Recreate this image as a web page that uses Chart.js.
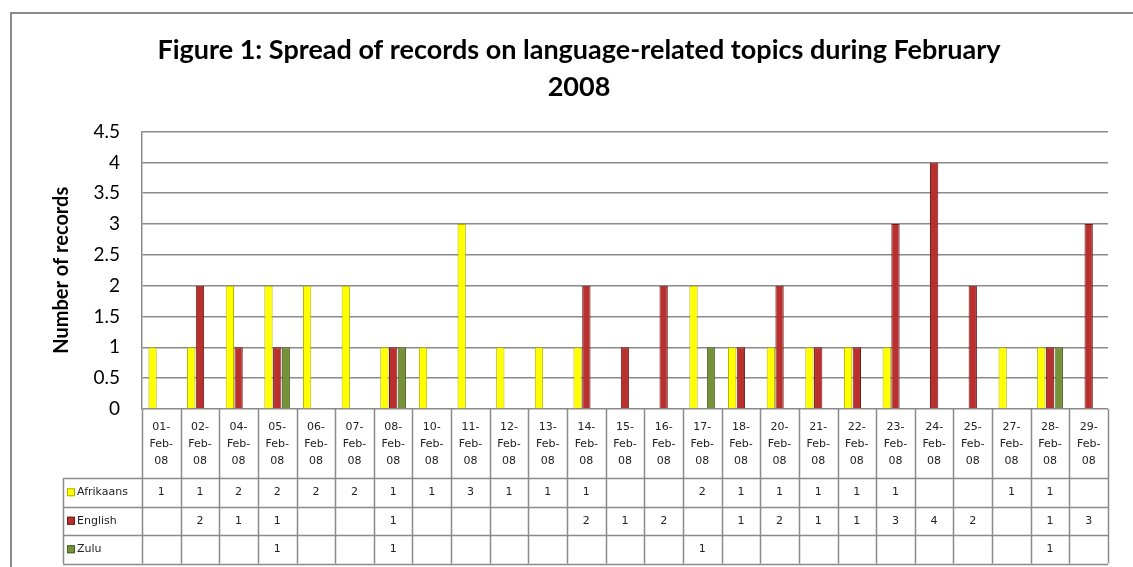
<!DOCTYPE html>
<html>
<head>
<meta charset="utf-8">
<script src="https://cdn.jsdelivr.net/npm/chart.js@4.4.1/dist/chart.umd.min.js"></script>
<style>
    html, body { margin: 0; padding: 0; background: #fff; }
    #wrap { width: 1133px; height: 567px; position: relative; }
</style>
</head>
<body>
<div id="wrap"><canvas id="recordsChart"></canvas></div>
<script>
// DATA
const dayLabels = [
    "01-Feb-08", "02-Feb-08", "04-Feb-08", "05-Feb-08", "06-Feb-08", "07-Feb-08", "08-Feb-08",
    "10-Feb-08", "11-Feb-08", "12-Feb-08", "13-Feb-08", "14-Feb-08", "15-Feb-08", "16-Feb-08",
    "17-Feb-08", "18-Feb-08", "20-Feb-08", "21-Feb-08", "22-Feb-08", "23-Feb-08", "24-Feb-08",
    "25-Feb-08", "27-Feb-08", "28-Feb-08", "29-Feb-08"
];
const afrikaansCounts = [1, 1, 2, 2, 2, 2, 1, 1, 3, 1, 1, 1, null, null, 2, 1, 1, 1, 1, 1, null, null, 1, 1, null];
const englishCounts   = [null, 2, 1, 1, null, null, 1, null, null, null, null, 2, 1, 2, null, 1, 2, 1, 1, 3, 4, 2, null, 1, 3];
const zuluCounts      = [null, null, null, 1, null, null, 1, null, null, null, null, null, null, null, 1, null, null, null, null, null, null, null, null, 1, null];
const seriesNames = ["Afrikaans", "English", "Zulu"];

const gridGrey = "#8a8a8a";

// frame round the whole chart, like the Excel chart border
const framePlugin = {
    id: "frame",
    beforeDraw(chart) {
        const ctx = chart.ctx;
        ctx.save();
        ctx.fillStyle = "#fff";
        ctx.fillRect(0, 0, chart.width, chart.height);
        ctx.strokeStyle = gridGrey;
        ctx.lineWidth = 2;
        ctx.strokeRect(11, 13, chart.width + 20, chart.height + 20);
        ctx.restore();
    }
};

// data table under the plot (categories + values per series)
const dataTablePlugin = {
    id: "dataTable",
    afterDraw(chart) {
        const ctx = chart.ctx;
        const area = chart.chartArea;
        const xScale = chart.scales.x;
        const n = chart.data.labels.length;
        const colW = (area.right - area.left) / n;
        const top = area.bottom;
        const headBottom = top + 69;
        const rowH = 28.5;
        const tableBottom = headBottom + rowH * 3;
        const labelLeft = 63;

        ctx.save();
        ctx.strokeStyle = gridGrey;
        ctx.lineWidth = 1.5;
        ctx.beginPath();
        for (let i = 0; i <= n; i++) {
            const x = Math.round(area.left + i * colW) + 0.5;
            ctx.moveTo(x, top);
            ctx.lineTo(x, tableBottom);
        }
        ctx.moveTo(labelLeft + 0.5, headBottom);
        ctx.lineTo(labelLeft + 0.5, tableBottom);
        for (let r = 0; r <= 3; r++) {
            const y = Math.round(headBottom + r * rowH) + 0.5;
            ctx.moveTo(labelLeft, y);
            ctx.lineTo(area.right, y);
        }
        ctx.stroke();

        ctx.font = "11px 'DejaVu Sans'";
        ctx.fillStyle = "#222";
        ctx.textAlign = "center";
        ctx.textBaseline = "middle";
        chart.data.labels.forEach((lab, i) => {
            const cx = xScale.getPixelForValue(i);
            const parts = lab.split("-");
            const lines = [parts[0] + "-", parts[1] + "-", parts[2]];
            lines.forEach((t, k) => ctx.fillText(t, cx, top + 18 + k * 17));
        });

        chart.data.datasets.forEach((ds, r) => {
            const cy = headBottom + r * rowH + rowH / 2;
            ctx.fillStyle = ds.backgroundColor;
            ctx.fillRect(labelLeft + 4, cy - 4, 8, 8);
            ctx.strokeStyle = ds.borderColor;
            ctx.lineWidth = 1;
            ctx.strokeRect(labelLeft + 4.5, cy - 3.5, 7, 7);
            ctx.fillStyle = "#222";
            ctx.textAlign = "left";
            ctx.fillText(ds.label, labelLeft + 14, cy);
            ctx.textAlign = "center";
            ds.data.forEach((v, i) => {
                if (v !== null) ctx.fillText(String(v), xScale.getPixelForValue(i), cy);
            });
        });
        ctx.restore();
    }
};

const setupBlock = {
    labels: dayLabels,
    datasets: [
        {
            label: seriesNames[0],
            data: afrikaansCounts,
            backgroundColor: "#ffff00",
            borderColor: "#b5b500",
            borderWidth: 1
        },
        {
            label: seriesNames[1],
            data: englishCounts,
            backgroundColor: "#b8312f",
            borderColor: "#6e1b1a",
            borderWidth: 1
        },
        {
            label: seriesNames[2],
            data: zuluCounts,
            backgroundColor: "#76933c",
            borderColor: "#4a5f24",
            borderWidth: 1
        }
    ]
};

const configBlock = {
    type: "bar",
    data: setupBlock,
    options: {
        responsive: true,
        maintainAspectRatio: false,
        animation: false,
        categoryPercentage: 0.68,
        barPercentage: 0.95,
        layout: {
            padding: { left: 50, right: 25, top: 0, bottom: 150 }
        },
        plugins: {
            legend: { display: false },
            tooltip: { enabled: false },
            title: {
                display: true,
                text: ["Figure 1: Spread of records on language-related topics during February", "2008"],
                font: { family: "Lato", size: 27, weight: "bold", lineHeight: 1.4 },
                color: "#000",
                padding: { top: 31, bottom: 25 }
            }
        },
        scales: {
            x: {
                grid: { display: false },
                border: { display: false },
                ticks: { display: false }
            },
            y: {
                min: 0,
                max: 4.5,
                ticks: {
                    stepSize: 0.5,
                    color: "#000",
                    padding: 22,
                    font: { family: "Lato", size: 19 },
                    callback: (v) => String(v)
                },
                grid: { color: gridGrey, lineWidth: 1.5, drawTicks: false },
                border: { display: true, color: gridGrey, width: 1.5 },
                title: {
                    display: true,
                    text: "Number of records",
                    color: "#000",
                    font: { family: "Lato", size: 20, weight: "bold" },
                    padding: { top: 0, bottom: 0 }
                },
                afterFit(scale) { scale.width = 92; }
            }
        }
    },
    plugins: [framePlugin, dataTablePlugin]
};

const recordsChart = new Chart(document.getElementById("recordsChart").getContext("2d"), configBlock);
</script>
</body>
</html>
